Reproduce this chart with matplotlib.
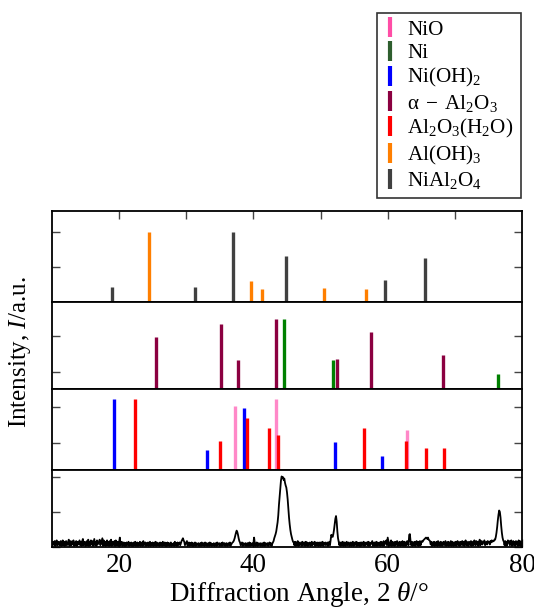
import numpy as np
import matplotlib
matplotlib.use("Agg")
import matplotlib.pyplot as plt
from matplotlib.lines import Line2D

plt.rcParams['font.family'] = ['Liberation Serif', 'DejaVu Serif']
plt.rcParams['mathtext.fontset'] = 'custom'
plt.rcParams['mathtext.rm'] = 'Liberation Serif'
plt.rcParams['mathtext.it'] = 'Liberation Serif:italic'

# ---- reference peak positions (2theta) and relative intensities ----
nio_pos = [37.2, 43.3, 62.8]
nio_int = [90, 99, 56]
ni_pos = [44.5, 51.8, 76.4]
ni_int = [100, 42, 22]
nioh2_pos = [19.3, 33.1, 38.6, 52.2, 59.1]
nioh2_int = [99, 27, 86, 39, 19]
a_al2o3_pos = [25.5, 35.1, 37.7, 43.3, 52.5, 57.5, 68.2]
a_al2o3_int = [74, 92, 42, 100, 43, 81, 48]
boeh_pos = [22.3, 35.0, 39.1, 42.3, 43.7, 56.4, 62.7, 65.7, 68.4]
boeh_int = [100, 40, 72, 59, 49, 59, 40, 30, 30]
aloh3_pos = [24.5, 39.7, 41.3, 50.5, 56.7]
aloh3_int = [100, 30, 18, 20, 18]
nial2o4_pos = [19.0, 31.3, 37.0, 44.9, 59.6, 65.5]
nial2o4_int = [21, 21, 100, 66, 31, 62]

# ---- measured pattern, 10.0 .. 80.0 deg, step 0.1 (one row per degree) ----
scan_start, scan_step = 10.0, 0.1
scan_counts = [
    6, 2, 7, 3, 8, 1, 6, 9, 2, 4,
    7, 2, 3, 8, 1, 4, 9, 2, 7, 1,
    5, 8, 2, 3, 7, 10, 1, 4, 8, 2,
    4, 7, 9, 1, 6, 2, 8, 1, 7, 3,
    6, 9, 2, 7, 1, 8, 11, 2, 4, 7,
    1, 3, 8, 2, 10, 1, 7, 2, 9, 3,
    8, 1, 6, 11, 2, 7, 1, 9, 3, 5,
    7, 10, 2, 4, 8, 12, 1, 9, 2, 7,
    1, 6, 9, 2, 7, 1, 8, 2, 10, 1,
    7, 2, 4, 8, 1, 9, 2, 3, 7, 1,
    5, 13, 2, 4, 7, 1, 3, 6, 1, 5,
    1, 6, 2, 5, 7, 1, 5, 2, 6, 1,
    5, 1, 6, 2, 7, 1, 4, 6, 1, 5,
    2, 7, 1, 3, 6, 1, 8, 2, 4, 6,
    1, 5, 2, 6, 1, 5, 7, 1, 5, 2,
    6, 1, 5, 2, 7, 1, 6, 2, 3, 5,
    1, 6, 2, 5, 1, 7, 2, 3, 6, 1,
    5, 1, 6, 2, 5, 1, 4, 6, 1, 4,
    2, 5, 1, 7, 2, 5, 1, 6, 2, 5,
    6, 2, 5, 8, 10, 12, 9, 7, 2, 4,
    6, 8, 1, 4, 6, 1, 5, 2, 6, 1,
    5, 1, 4, 6, 1, 5, 2, 3, 5, 1,
    4, 5, 1, 6, 2, 3, 5, 1, 6, 2,
    5, 1, 4, 5, 1, 6, 2, 5, 1, 4,
    2, 5, 1, 3, 5, 1, 6, 2, 4, 5,
    1, 3, 5, 1, 6, 2, 4, 5, 1, 4,
    5, 1, 3, 5, 2, 6, 1, 3, 5, 6,
    7, 9, 12, 16, 20, 23, 21, 17, 12, 8,
    6, 2, 4, 6, 1, 5, 2, 3, 5, 1,
    4, 5, 1, 4, 6, 1, 5, 2, 3, 5,
    1, 13, 5, 1, 4, 6, 1, 5, 2, 3,
    5, 1, 3, 5, 1, 3, 6, 1, 5, 2,
    4, 5, 1, 4, 6, 2, 5, 1, 4, 6,
    8, 12, 15, 18, 22, 28, 35, 45, 60, 72,
    85, 95, 101, 99, 100, 96, 98, 92, 88, 85,
    78, 68, 55, 42, 32, 24, 18, 14, 10, 7,
    6, 2, 7, 1, 6, 2, 8, 1, 6, 2,
    4, 6, 1, 7, 2, 5, 6, 1, 7, 2,
    6, 1, 5, 3, 6, 1, 4, 7, 2, 4,
    5, 7, 1, 6, 2, 3, 6, 1, 5, 6,
    1, 6, 2, 7, 1, 5, 3, 6, 2, 4,
    6, 1, 5, 7, 2, 10, 17, 15, 14, 18,
    24, 32, 40, 44, 36, 22, 12, 7, 2, 6,
    1, 6, 2, 7, 1, 5, 6, 1, 5, 7,
    2, 4, 6, 1, 3, 6, 1, 5, 7, 1,
    6, 2, 4, 7, 1, 6, 2, 5, 1, 6,
    1, 6, 2, 4, 7, 1, 6, 2, 5, 6,
    2, 7, 1, 6, 2, 4, 6, 8, 1, 4,
    6, 1, 5, 7, 1, 6, 2, 4, 6, 1,
    7, 2, 6, 1, 8, 2, 5, 7, 9, 2,
    13, 7, 1, 6, 2, 9, 1, 7, 2, 6,
    1, 7, 2, 6, 8, 1, 6, 2, 7, 1,
    6, 2, 8, 1, 6, 7, 1, 6, 2, 8,
    6, 2, 17, 18, 8, 2, 7, 1, 6, 2,
    7, 1, 6, 8, 2, 7, 1, 6, 8, 2,
    6, 8, 7, 9, 10, 11, 12, 13, 12, 11,
    13, 10, 9, 8, 3, 7, 1, 6, 2, 7,
    1, 6, 2, 7, 1, 8, 2, 6, 1, 7,
    6, 1, 5, 7, 2, 5, 8, 1, 6, 2,
    7, 1, 6, 2, 8, 1, 7, 6, 1, 6,
    2, 7, 1, 6, 8, 2, 6, 1, 7, 2,
    6, 8, 2, 7, 1, 6, 9, 2, 7, 3,
    1, 7, 6, 2, 8, 1, 6, 7, 2, 9,
    6, 2, 8, 3, 7, 1, 6, 10, 2, 7,
    8, 3, 5, 7, 9, 2, 5, 7, 3, 8,
    6, 7, 3, 8, 6, 9, 7, 8, 8, 10,
    10, 14, 20, 28, 38, 46, 52, 50, 42, 30,
    20, 13, 9, 7, 2, 8, 1, 7, 2, 9,
    6, 8, 2, 7, 9, 1, 5, 8, 2, 7,
    1, 8, 3, 7, 1, 9, 2, 8, 1, 7,
    6,
]
scan_angle = scan_start + scan_step * np.arange(len(scan_counts))

# colours (bars / legend)
c_nio, c_nio_leg = '#ff88c8', '#ff4da6'
c_ni, c_ni_leg = '#008000', '#2e5e2e'
c_nioh2 = '#0000ff'
c_aal = '#8b0040'
c_boeh = '#ff0000'
c_aloh = '#ff7f00'
c_nial = '#404040'

W, H = 534, 608
fig = plt.figure(figsize=(W / 100, H / 100), dpi=100)

left, right = 52 / W, 522 / W
panels = [(211, 301.7), (301.7, 389.3), (389.3, 469.5), (469.5, 547.3)]
axs = []
for top, bot in panels:
    ax = fig.add_axes([left, 1 - bot / H, right - left, (bot - top) / H])
    axs.append(ax)

bar_lw = 2.4

ax = axs[0]
ax.vlines(nial2o4_pos, 0, nial2o4_int, color=c_nial, lw=bar_lw)
ax.vlines(aloh3_pos, 0, aloh3_int, color=c_aloh, lw=bar_lw)
ax.set_ylim(0, 130)
ax.set_yticks([50, 100])

ax = axs[1]
ax.vlines(a_al2o3_pos, 0, a_al2o3_int, color=c_aal, lw=bar_lw)
ax.vlines(ni_pos, 0, ni_int, color=c_ni, lw=bar_lw)
ax.set_ylim(0, 124)
ax.set_yticks([25, 75])

ax = axs[2]
ax.vlines(nio_pos, 0, nio_int, color=c_nio, lw=bar_lw)
ax.vlines(nioh2_pos, 0, nioh2_int, color=c_nioh2, lw=bar_lw)
ax.vlines(boeh_pos, 0, boeh_int, color=c_boeh, lw=bar_lw)
ax.set_ylim(0, 113)
ax.set_yticks([38, 88])

ax = axs[3]
ax.plot(scan_angle, scan_counts, color='black', lw=1.3)
ax.set_ylim(-1, 111)
ax.set_yticks([0, 50, 100])

for i, ax in enumerate(axs):
    ax.set_xlim(10, 80)
    for s in ax.spines.values():
        s.set_linewidth(1.3)
    ax.tick_params(axis='y', direction='in', left=True, right=True,
                   labelleft=False, length=6, width=1.0, color='#444444')
    ax.set_xticks(np.arange(20, 80, 10))
    ax.tick_params(axis='x', direction='in', top=(i == 0), bottom=(i == 3),
                   labelbottom=False, length=6, width=1.0, color='#444444')

axs[3].set_xticks([20, 40, 60, 80])
axs[3].set_xticklabels(['20', '40', '60', '80'])
axs[3].tick_params(axis='x', labelbottom=True, labelsize=19.5, pad=4)

fig.text(299 / W, 1 - 601 / H, r'Diffraction Angle, 2 $\theta$/°',
         ha='center', va='baseline', fontsize=19.5)
fig.text(20 / W, 1 - 352 / H, r'Intensity, $I$/a.u.', rotation=90,
         ha='center', va='center', fontsize=18)

labels = ['NiO', 'Ni', r'$\mathrm{Ni(OH)_2}$', r'$\mathrm{\alpha}\;-\;\mathrm{Al_2O_3}$',
          r'$\mathrm{Al_2O_3(H_2O)}$', r'$\mathrm{Al(OH)_3}$', r'$\mathrm{NiAl_2O_4}$']
leg_colors = [c_nio_leg, c_ni_leg, c_nioh2, c_aal, c_boeh, c_aloh, c_nial]
handles = [Line2D([], [], marker='|', linestyle='None', markersize=14,
                  markeredgewidth=3, color=c) for c in leg_colors]
leg = fig.legend(handles, labels, loc='upper left',
                 bbox_to_anchor=(376.7 / W, 1 - 12.7 / H), borderaxespad=0,
                 frameon=True, fancybox=False, edgecolor='black',
                 fontsize=15.2, labelspacing=0.16, handlelength=0.6,
                 handletextpad=0.5, borderpad=0.35)
leg.get_frame().set_linewidth(1.2)

fig.savefig('out.png', dpi=100)
